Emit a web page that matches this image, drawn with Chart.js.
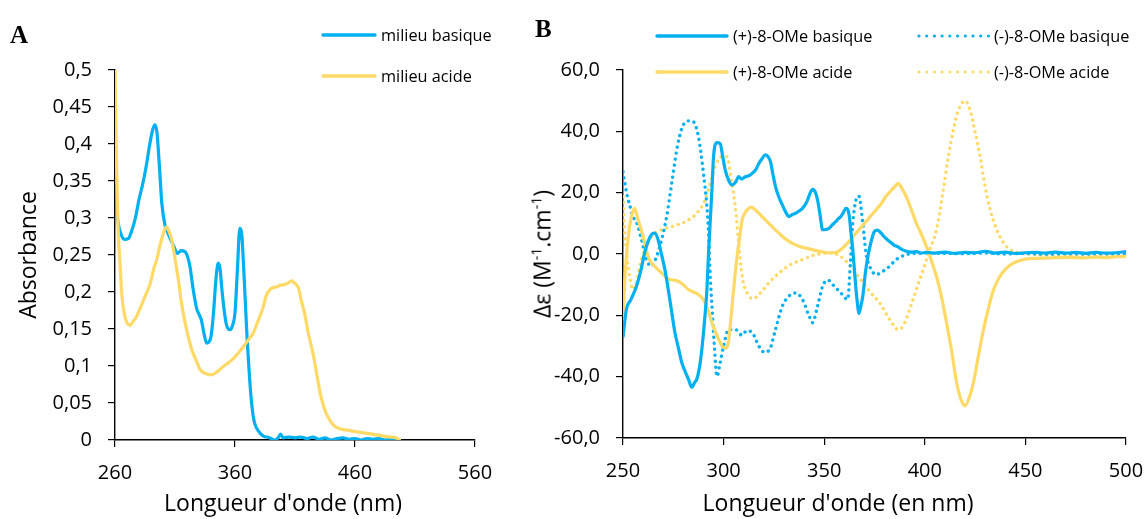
<!DOCTYPE html>
<html>
<head>
<meta charset="utf-8">
<script src="https://cdn.jsdelivr.net/npm/chart.js@4.4.1/dist/chart.umd.min.js"></script>
<style>
  html, body { margin:0; padding:0; background:#fff; }
  body { width:1148px; height:519px; position:relative; overflow:hidden; font-family:'Open Sans', sans-serif; color:#000; }
  canvas { position:absolute; top:0; }
  .abs { position:absolute; white-space:nowrap; }
  .leg { font-size:16.3px; line-height:20px; }
  .title { font-size:23px; line-height:28px; }
  .panel { font-family:'Liberation Serif', 'Times New Roman', serif; font-weight:bold; font-size:25px; line-height:30px; }
</style>
</head>
<body>
<canvas id="cA" width="520" height="519" style="left:0px"></canvas>
<canvas id="cB" width="628" height="519" style="left:520px"></canvas>

<div class="abs panel" style="left:10px; top:20px;">A</div>
<div class="abs panel" style="left:535px; top:14px;">B</div>

<!-- legend A -->
<svg class="abs" style="left:320px; top:31px" width="58" height="8"><line x1="3" y1="4" x2="55" y2="4" stroke="#00B0F0" stroke-width="3.4" stroke-linecap="round"/></svg>
<div class="abs leg" style="left:381px; top:25px;">milieu basique</div>
<svg class="abs" style="left:320px; top:72px" width="58" height="8"><line x1="3" y1="4" x2="55" y2="4" stroke="#FFD966" stroke-width="3.4" stroke-linecap="round"/></svg>
<div class="abs leg" style="left:381px; top:66px;">milieu acide</div>

<!-- legend B -->
<svg class="abs" style="left:654px; top:32px" width="76" height="8"><line x1="3" y1="4" x2="73" y2="4" stroke="#00B0F0" stroke-width="3.4" stroke-linecap="round"/></svg>
<div class="abs leg" style="left:733px; top:26px;">(+)-8-OMe basique</div>
<svg class="abs" style="left:654px; top:68px" width="76" height="8"><line x1="3" y1="4" x2="73" y2="4" stroke="#FFD966" stroke-width="3.4" stroke-linecap="round"/></svg>
<div class="abs leg" style="left:733px; top:62px;">(+)-8-OMe acide</div>
<svg class="abs" style="left:916px; top:32px" width="76" height="8"><line x1="3" y1="4" x2="73" y2="4" stroke="#00B0F0" stroke-width="3.2" stroke-linecap="round" stroke-dasharray="0.01 7.7"/></svg>
<div class="abs leg" style="left:994px; top:26px;">(-)-8-OMe basique</div>
<svg class="abs" style="left:916px; top:68px" width="76" height="8"><line x1="3" y1="4" x2="73" y2="4" stroke="#FFD966" stroke-width="3.2" stroke-linecap="round" stroke-dasharray="0.01 7.7"/></svg>
<div class="abs leg" style="left:994px; top:62px;">(-)-8-OMe acide</div>

<!-- axis titles -->
<div class="abs title" style="left:283px; top:488px; transform:translateX(-50%);">Longueur d'onde (nm)</div>
<div class="abs title" style="left:838px; top:488px; transform:translateX(-50%);">Longueur d'onde (en nm)</div>
<div class="abs title" style="left:26.5px; top:255px; transform:translate(-50%,-50%) rotate(-90deg);">Absorbance</div>
<div class="abs title" style="left:539px; top:254px; transform:translate(-50%,-50%) rotate(-90deg);">Δε (M<sup style="font-size:14px; vertical-align:9px;">-1</sup>.cm<sup style="font-size:14px; vertical-align:9px;">-1</sup>)</div>

<script>
// ---------- Panel A : absorbance ----------
const wlBasicA = [260, 261, 262.5, 265, 268, 271, 274, 277, 280, 283, 286, 289, 291.5, 293.3, 295, 297, 299, 301.7, 304, 306, 309, 312, 315, 318, 320, 322.5, 325, 328, 330, 332, 334, 336.4, 338, 340, 342, 344, 346, 347.5, 349, 351, 353, 355.8, 358, 360, 362, 364, 365.5, 367, 368.5, 370, 371.5, 373, 374.5, 376, 378, 381, 384, 387, 390, 393, 396, 398, 400, 405, 410, 415, 420, 425, 430, 435, 440, 445, 450, 455, 460, 465, 470, 475, 480, 485, 490, 493];
const absBasicA = [0.345, 0.32, 0.295, 0.278, 0.271, 0.272, 0.283, 0.30, 0.325, 0.345, 0.37, 0.40, 0.42, 0.426, 0.415, 0.37, 0.32, 0.29, 0.28, 0.272, 0.262, 0.252, 0.256, 0.255, 0.25, 0.234, 0.205, 0.178, 0.17, 0.162, 0.145, 0.131, 0.132, 0.14, 0.17, 0.215, 0.239, 0.232, 0.205, 0.175, 0.155, 0.149, 0.155, 0.172, 0.23, 0.286, 0.28, 0.24, 0.19, 0.14, 0.10, 0.065, 0.04, 0.025, 0.016, 0.009, 0.005, 0.004, 0.002, 0.0, 0.003, 0.008, 0.003, 0.004, 0.003, 0.004, 0.002, 0.004, 0.001, 0.003, 0.0, 0.002, 0.003, 0.001, 0.002, 0.0, 0.002, 0.001, 0.002, 0.0, 0.001, 0.0];

const wlAcidA = [260, 260.5, 261, 262, 263, 264, 265.5, 267, 268.5, 270, 272.5, 275, 278, 281, 285, 288, 290, 292, 295, 297, 299, 301, 303, 305, 307, 309, 311, 313, 315, 318, 321, 324, 327, 331, 335, 340.6, 345, 350, 355, 358.6, 363, 367, 371, 375, 379, 383.6, 386, 389, 392, 395, 397.5, 401, 404, 407, 409, 411, 413, 415, 418, 421, 425, 428, 431, 434, 436, 439, 442, 446, 450, 453, 458, 462, 466, 470, 474, 478, 482, 486, 490, 494, 497];
const absAcidA = [0.50, 0.45, 0.40, 0.32, 0.27, 0.243, 0.20, 0.178, 0.165, 0.158, 0.155, 0.16, 0.167, 0.178, 0.194, 0.205, 0.215, 0.23, 0.245, 0.26, 0.272, 0.283, 0.288, 0.282, 0.272, 0.255, 0.235, 0.215, 0.19, 0.162, 0.14, 0.122, 0.11, 0.095, 0.09, 0.088, 0.092, 0.099, 0.105, 0.11, 0.118, 0.126, 0.135, 0.144, 0.16, 0.18, 0.195, 0.203, 0.206, 0.207, 0.209, 0.21, 0.212, 0.215, 0.213, 0.21, 0.205, 0.19, 0.171, 0.145, 0.117, 0.09, 0.063, 0.045, 0.036, 0.027, 0.02, 0.016, 0.014, 0.0135, 0.012, 0.011, 0.01, 0.009, 0.008, 0.007, 0.006, 0.0045, 0.004, 0.003, 0.0];

const xTicksA = [260, 360, 460, 560];
const yTicksA = [0, 0.05, 0.1, 0.15, 0.2, 0.25, 0.3, 0.35, 0.4, 0.45, 0.5];
const yTickLabelsA = ['0', '0,05', '0,1', '0,15', '0,2', '0,25', '0,3', '0,35', '0,4', '0,45', '0,5'];

// ---------- Panel B : circular dichroism ----------
const wlPlusBas = [250, 251.7, 254, 256.7, 259, 261, 262.5, 264, 265.8, 267.5, 269, 270.8, 272.5, 274, 275.8, 277.5, 279.2, 281, 282.5, 284.2, 285.5, 286.7, 288, 289.2, 290.5, 291.7, 292.5, 293.3, 294.2, 295, 296.7, 298.3, 299.5, 300.8, 302.5, 304.2, 306, 307.5, 309, 310.8, 312.5, 314.2, 316, 317.5, 319, 320.8, 322, 323.3, 324.5, 325.8, 327.5, 329.2, 331, 332.5, 334, 335.8, 337.5, 339.2, 340.5, 341.7, 343, 344.2, 345.5, 346.7, 348, 349.2, 350.8, 352.5, 354, 355.8, 357, 358.3, 359.5, 360.8, 361.7, 362.5, 363.3, 364.2, 365, 365.8, 366.5, 367.2, 368.2, 369.2, 370.5, 371.7, 373.3, 375, 376.5, 378.3, 380, 382.5, 384.5, 386.7, 388.5, 390.8, 393, 396, 398, 400.8, 405, 410, 415, 420, 425, 430, 435, 440, 445, 450, 455, 460, 465, 470, 475, 480, 485, 490, 495, 500];
const cdPlusBas = [-27, -18, -14.8, -10.5, -5, 1, 4.1, 6.2, 6.8, 4.5, 0.3, -5, -11.6, -18, -25.6, -30.5, -35.4, -38.5, -40.8, -43.5, -42, -40.8, -37, -31, -22, -11.6, 0, 10, 21, 31.7, 36.3, 36, 32, 27.4, 24, 22.5, 23.5, 25.2, 24.5, 25.2, 25.5, 26.3, 27.5, 29.5, 31, 32.3, 31.8, 30.1, 26, 22, 18.5, 16, 13.5, 12.2, 12.8, 13.3, 14, 14.9, 16, 17.6, 19.8, 21.1, 20.3, 17.6, 12.5, 7.9, 8, 8.4, 9.5, 10.6, 11.5, 12.2, 13.5, 14.9, 14.5, 12.2, 7, 1.4, -5, -11.6, -16, -19.4, -17, -13.7, -6, -0.8, 4, 7.4, 7.8, 6.8, 5.5, 4.1, 3, 2.3, 1.5, 0.9, 0.6, 0.8, 0.3, 0.5, 0.3, 0.6, 0.2, 0.5, 0.4, 0.9, 0.3, 0.6, 0.2, 0.4, 0.5, 0.3, 0.6, 0.3, 0.5, 0.2, 0.5, 0.3, 0.4, 0.8];

const wlPlusAcid = [250, 250.8, 251.7, 252.5, 253.3, 254.2, 255.8, 257.5, 258.8, 260, 261.2, 262.5, 264, 265.8, 267.5, 269.2, 272.5, 275, 277.5, 280, 282.5, 285, 287.5, 289.2, 290.8, 292.5, 294.2, 296, 297.5, 299, 300, 301, 302.2, 303.2, 304.2, 305.5, 306.7, 308, 309.2, 310.5, 311.7, 313.8, 315.5, 317.5, 320, 322.5, 325, 327.5, 330, 332.5, 335, 337.5, 341, 344.2, 347.5, 350.8, 353, 355.8, 358, 360.8, 363.3, 365.8, 368.3, 370.8, 373.3, 375.8, 378.3, 380.8, 383.3, 385.8, 386.7, 388.5, 390.8, 393.3, 395.8, 398.3, 400.8, 403.3, 405.8, 408.3, 410.8, 413.3, 415.8, 418, 420, 422, 424.2, 426.7, 429.2, 431.7, 434.2, 436.7, 439.2, 441.7, 444.2, 447.5, 450.8, 455, 462.5, 470, 479.2, 485, 490, 495, 500];
const cdPlusAcid = [-22, -9.4, -1, 4.7, 9, 12.2, 14.9, 11.1, 8.5, 5.7, 2.5, -0.8, -2.8, -4, -5.2, -6.2, -8.1, -8.5, -8.9, -10, -11.6, -12.4, -13.2, -14.3, -15.9, -18.8, -22.4, -25.5, -27.8, -29.8, -30.5, -30.7, -29.4, -24, -17, -8, -0.8, 5.5, 11.1, 13.2, 14.4, 15.3, 14.5, 13.3, 11.6, 10, 8.3, 6.8, 5.3, 4.1, 3.2, 2.5, 1.9, 1.4, 0.9, 0.5, 0.4, 0.5, 1.3, 3, 4.8, 6.8, 8.7, 10.6, 12.5, 14.4, 16.4, 18.9, 20.7, 22.5, 23, 21.5, 18.7, 14.5, 10, 6.5, 2.5, -2.2, -7.3, -14, -22.4, -31.5, -41.9, -47.5, -49.5, -47, -41.9, -33, -24.6, -17.5, -11.6, -8, -5.6, -4, -2.9, -2.1, -1.6, -1.4, -1.3, -1.1, -1.3, -1.0, -1.2, -0.9, -0.8];

const wlMinusBas = [250, 251.2, 252.2, 253.3, 255, 257.2, 259.2, 261.7, 264.2, 266.7, 269.2, 271.7, 274.2, 276.7, 279.2, 282.2, 285, 287.5, 290, 291.7, 292.5, 293.3, 294.5, 295.5, 296.7, 298.3, 300, 302.5, 305.8, 309.2, 311.5, 314.2, 317.5, 320.5, 323.3, 325.8, 329.2, 332.5, 335.8, 339.2, 342.5, 344.2, 346.7, 349.2, 351.7, 355, 358.3, 361.7, 363, 364.2, 365.8, 367.2, 369.2, 370.8, 373.3, 375.8, 379.2, 382.5, 385.8, 390.8, 395, 400.8, 410, 420, 430, 440, 450, 460, 470, 480, 490, 500];
const cdMinusBas = [26.8, 22, 18.7, 16, 12.2, 9.5, 4.7, -1.8, -4, -0.8, 4.7, 12.2, 23, 33.9, 40.9, 43.4, 43.1, 38.2, 26.3, 15.5, 6.8, -6.2, -20.2, -31, -39.9, -35.4, -30, -24.6, -24.6, -26.5, -25, -25.6, -30, -32.1, -30.5, -24.6, -17, -13.7, -12.7, -14.8, -20.2, -22.4, -17, -10.5, -8.5, -10.5, -12.7, -14.8, -3, 10, 17.6, 18.9, 10, 0.3, -5, -6.7, -5.6, -4, -1.8, -0.2, 0.2, 0.3, 0.2, 0.1, 0.3, 0.0, 0.2, -0.1, 0.1, 0.0, 0.1, 0.0];

const wlMinusAcid = [250, 250.5, 251.7, 253.3, 255, 256.7, 258.3, 260.8, 264.2, 269.2, 275.8, 282.5, 287.5, 290.8, 293.3, 295.8, 298.8, 301.7, 303.8, 305.8, 307.5, 309.2, 311.7, 314.5, 318.3, 322.5, 327.5, 333.3, 339.2, 345.8, 352.5, 357.5, 362.5, 367.5, 372.5, 377.5, 382.5, 386.7, 389.2, 392.5, 395.8, 399.2, 402.5, 405.8, 409.2, 411.7, 414.2, 416.7, 420, 422.5, 425, 427.5, 430, 432.5, 435.8, 439.2, 442.5, 447.5, 455.8, 465, 475, 485, 495, 500];
const cdMinusAcid = [18.7, 11.1, 1.4, -7.3, -11.6, -9.4, -4, 1.4, 5.7, 7.9, 9.2, 11.1, 13.9, 17.6, 23, 28.5, 31.7, 31.7, 24.1, 15.5, 3.6, -7.3, -12.7, -14.6, -12.7, -9.4, -6.2, -3.5, -1.8, -0.2, 0.3, -0.5, -3.5, -7.8, -12.1, -15.9, -21.3, -24.6, -23.5, -18, -11.6, -5.1, 1.4, 7.9, 20.9, 31.7, 40.4, 46.9, 49.9, 46.9, 39.8, 31.7, 22, 14.4, 7.9, 3.6, 1.4, 0.3, -0.2, -0.5, -0.6, -0.5, -0.7, -0.6];

const xTicksB = [250, 300, 350, 400, 450, 500];
const yTicksB = [-60, -40, -20, 0, 20, 40, 60];
const yTickLabelsB = ['-60,0', '-40,0', '-20,0', '0,0', '20,0', '40,0', '60,0'];

// ---------- styling ----------
const BLUE = '#00B0F0';
const YELLOW = '#FFD966';
Chart.defaults.font.family = "'Open Sans', sans-serif";
Chart.defaults.color = '#000';

const pts = (xs, ys) => xs.map((x, i) => ({ x: x, y: ys[i] }));

function solid(data, color, order) {
  return { data, borderColor: color, backgroundColor: color, borderWidth: 3.2, pointRadius: 0,
           cubicInterpolationMode: 'monotone', fill: false, order, borderCapStyle: 'round', borderJoinStyle: 'round' };
}
function dotted(data, color, order) {
  return { data, borderColor: color, backgroundColor: color, borderWidth: 3.4, pointRadius: 0,
           cubicInterpolationMode: 'monotone', fill: false, order, borderDash: [0.01, 6], borderCapStyle: 'round' };
}

function axisCommon() {
  return {
    grid: { display: true, drawOnChartArea: false, drawTicks: true, tickLength: 7, color: '#000', lineWidth: 1.2 },
    border: { display: true, color: '#000', width: 1.4 },
  };
}

function makeScales(xTicks, yTicks, yLabels, yWidth, xHeight) {
  const xs = Object.assign(axisCommon(), {
    type: 'linear', min: xTicks[0], max: xTicks[xTicks.length - 1],
    afterBuildTicks: s => { s.ticks = xTicks.map(v => ({ value: v })); },
    afterFit: s => { s.height = xHeight; s.paddingLeft = 0; s.paddingRight = 0; },
    ticks: { font: { size: 20 }, padding: 14, maxRotation: 0, autoSkip: false, callback: v => String(v) },
  });
  const ys = Object.assign(axisCommon(), {
    type: 'linear', min: yTicks[0], max: yTicks[yTicks.length - 1],
    afterBuildTicks: s => { s.ticks = yTicks.map(v => ({ value: v })); },
    afterFit: s => { s.width = yWidth; s.paddingTop = 0; s.paddingBottom = 0; },
    ticks: { font: { size: 20 }, padding: 16, autoSkip: false, callback: (v, i) => yLabels[i] },
  });
  return { x: xs, y: ys };
}

const common = {
  responsive: false, animation: false, devicePixelRatio: 1,
  plugins: { legend: { display: false }, tooltip: { enabled: false } },
  events: [],
};

new Chart(document.getElementById('cA'), {
  type: 'line',
  data: { datasets: [
    solid(pts(wlAcidA, absAcidA), YELLOW, 0),
    solid(pts(wlBasicA, absBasicA), BLUE, 1),
  ] },
  options: Object.assign({}, common, {
    layout: { padding: { left: 0, top: 70, right: 45, bottom: 0 } },
    scales: makeScales(xTicksA, yTicksA, yTickLabelsA, 115, 79),
  }),
});

new Chart(document.getElementById('cB'), {
  type: 'line',
  data: { datasets: [
    solid(pts(wlPlusBas, cdPlusBas), BLUE, 0),
    solid(pts(wlPlusAcid, cdPlusAcid), YELLOW, 1),
    dotted(pts(wlMinusBas, cdMinusBas), BLUE, 2),
    dotted(pts(wlMinusAcid, cdMinusAcid), YELLOW, 3),
  ] },
  options: Object.assign({}, common, {
    layout: { padding: { left: 0, top: 70, right: 22, bottom: 0 } },
    scales: makeScales(xTicksB, yTicksB, yTickLabelsB, 103, 81),
  }),
});
</script>
</body>
</html>
